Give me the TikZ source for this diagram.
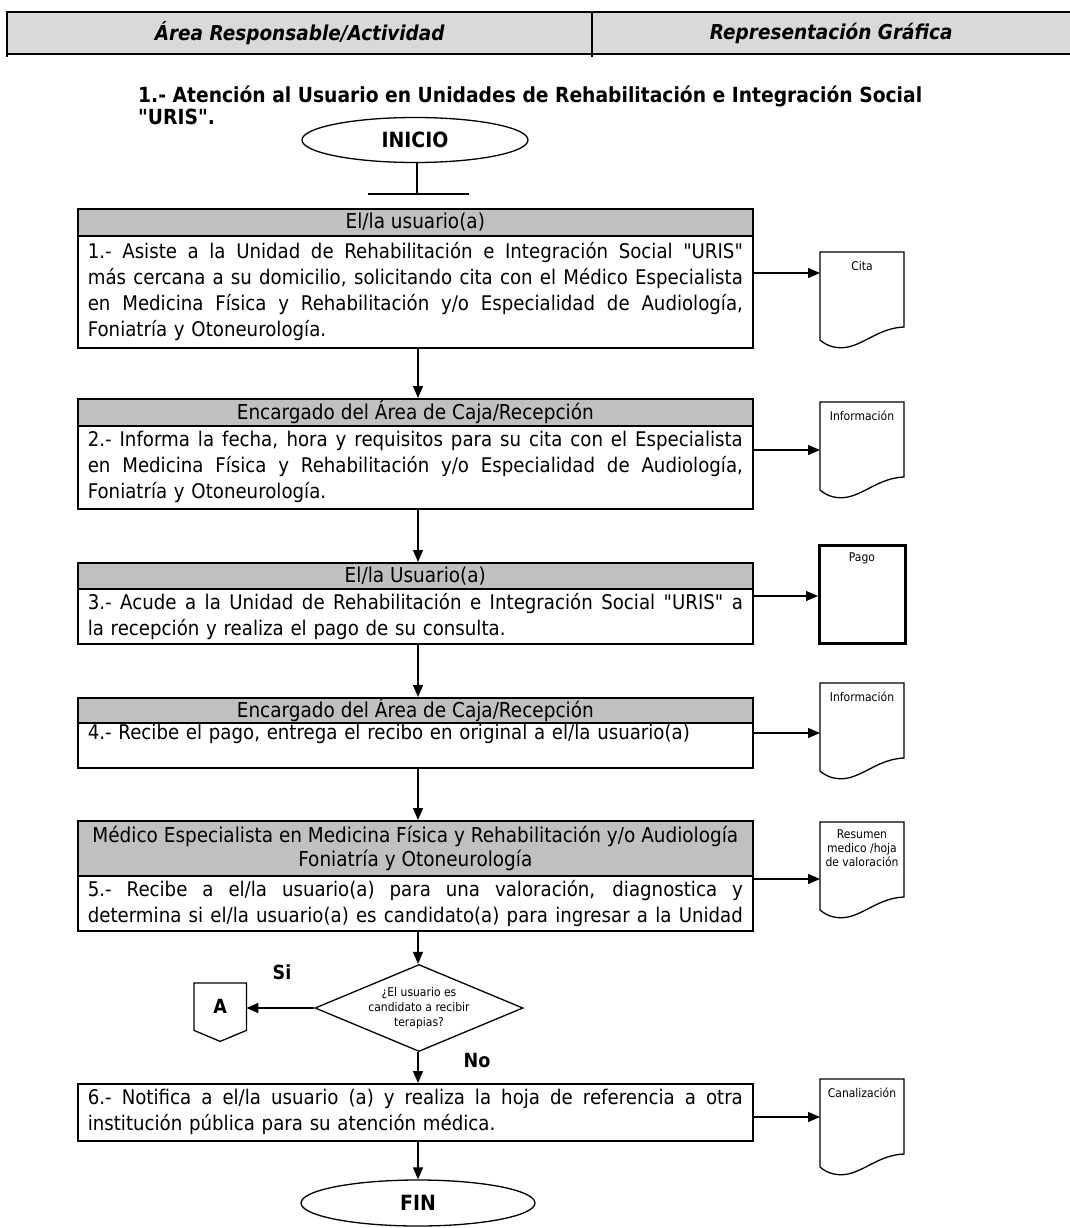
\documentclass[tikz,border=0pt]{standalone}
\usepackage{fontspec}
\setmainfont{DejaVu Sans}[FakeStretch=0.9,Ligatures=TeXOff]
\usetikzlibrary{arrows.meta,shapes.geometric}
\definecolor{hdrgray}{HTML}{D9D9D9}
\definecolor{boxgray}{HTML}{C0C0C0}
\newcommand\jl[1]{\leavevmode{\spaceskip=0.3em plus 2em minus 0.08em\relax\hbox to 655pt{#1}}}
\begin{document}
\begin{tikzpicture}[x=1pt,y=-1pt,
  arr/.style={line width=1.3pt,-{Triangle[length=12pt,width=10pt]}},
  cellhdr/.style={fill=hdrgray,anchor=north west,inner sep=0pt,minimum height=42pt,
    font=\bfseries\itshape\fontsize{20.5}{24}\selectfont},
  hdr/.style={draw,line width=1.6pt,fill=boxgray,minimum width=675pt,anchor=north west,
    inner sep=0pt,align=center,font=\fontsize{20.5}{24}\selectfont},
  body/.style={draw,line width=1.6pt,minimum width=675pt,text width=655pt,anchor=north west,
    inner xsep=10pt,inner ysep=0pt,align=left,font=\fontsize{20.2}{26}\selectfont},
  term/.style={draw,ellipse,line width=1.3pt,inner sep=0pt,font=\bfseries\fontsize{21}{24}\selectfont},
  docbox/.style={anchor=north west,minimum width=84pt,minimum height=75pt,inner sep=0pt},
  docline/.style={line width=1.3pt},
  doctext/.style={anchor=north,align=center,inner sep=0pt,font=\fontsize{12}{14}\selectfont},
  lbl/.style={font=\bfseries\fontsize{19.5}{22}\selectfont,inner sep=0pt}
]
\useasboundingbox (0,0) rectangle (1070,1228);
\coordinate (cx) at (418,0);

% table header
\node[cellhdr,minimum width=585pt] (t1) at (7,12) {\'Area Responsable/Actividad};
\node[cellhdr,minimum width=478pt] (t2) at (592,12) {Representaci\'on Gr\'afica};
\draw[line width=1.5pt] (t2.north east) -- (t1.north west) -- ([yshift=-3pt]t1.south west);
\draw[line width=2pt] (t1.south west) -- (t2.south east);
\draw[line width=1.3pt] (t2.north west) -- ([yshift=-3pt]t2.south west);

% title
\node[anchor=north west,align=left,inner sep=0pt,font=\bfseries\fontsize{20.8}{22}\selectfont] (title) at (138,86)
 {1.- Atención al Usuario en Unidades de Rehabilitación e Integración Social\\"URIS".};

% start
\node[term,minimum width=226pt,minimum height=45pt] (ini) at (415,140) {INICIO};
\coordinate (tk) at (417,194);
\coordinate (tkl) at (368,194);
\coordinate (tkr) at (469,194);
\draw[line width=1.3pt] (ini.south -| tk) -- (tk);
\draw[line width=1.3pt] (tkl) -- (tkr);

% step 1
\node[hdr,minimum height=27pt] (h1) at (77,208) {El/la usuario(a)};
\node[body,minimum height=112pt] (b1) at (77,235)
 {\jl{1.- Asiste a la Unidad de Rehabilitación e Integración Social "URIS"}\\
  \jl{más cercana a su domicilio, solicitando cita con el Médico Especialista}\\
  \jl{en Medicina Física y Rehabilitación y/o Especialidad de Audiología,}\\
  Foniatría y Otoneurología.};

% step 2
\node[hdr,minimum height=27pt] (h2) at (77,398) {Encargado del Área de Caja/Recepción};
\node[body,minimum height=83pt] (b2) at (77,425)
 {\jl{2.- Informa la fecha, hora y requisitos para su cita con el Especialista}\\
  \jl{en Medicina Física y Rehabilitación y/o Especialidad de Audiología,}\\
  Foniatría y Otoneurología.};

% step 3
\node[hdr,minimum height=26pt] (h3) at (77,562) {El/la Usuario(a)};
\node[body,minimum height=55pt] (b3) at (77,588)
 {\jl{3.- Acude a la Unidad de Rehabilitación e Integración Social "URIS" a}\\
  la recepción y realiza el pago de su consulta.};

% step 4
\node[hdr,minimum height=25pt] (h4) at (77,697) {Encargado del Área de Caja/Recepción};
\node[body,minimum height=45pt] (b4) at (77,722)
 {4.- Recibe el pago, entrega el recibo en original a el/la usuario(a)\\ \mbox{}};

% step 5
\node[hdr,minimum height=55pt] (h5) at (77,820)
 {Médico Especialista en Medicina Física y Rehabilitación y/o Audiología\\Foniatría y Otoneurología};
\node[body,minimum height=55pt] (b5) at (77,875)
 {\jl{5.- Recibe a el/la usuario(a) para una valoración, diagnostica y}\\
  \jl{determina si el/la usuario(a) es candidato(a) para ingresar a la Unidad}};

% decision
\node[draw,diamond,line width=1.3pt,aspect=2.4,minimum width=208pt,minimum height=87pt,inner sep=0pt,
  align=center,font=\fontsize{12}{15}\selectfont] (dia) at (419,1008)
 {¿El usuario es\\candidato a recibir\\terapias?};
\node[lbl] (si) at (282,972) {Si};
\node[lbl] (no) at (477,1061) {No};

% connector A
\node[anchor=north west,minimum width=52pt,minimum height=46pt,inner sep=0pt,
  font=\bfseries\fontsize{19.5}{22}\selectfont] (A) at (194,983) {A};
\draw[line width=1.3pt] (A.north west) -- (A.north east) -- ([yshift=-1pt]A.south east)
  -- ([yshift=-12pt]A.south) -- ([yshift=-1pt]A.south west) -- cycle;

% step 6
\node[body,minimum height=57pt] (b6) at (77,1083)
 {\jl{6.- Notifica a el/la usuario (a) y realiza la hoja de referencia a otra}\\
  institución pública para su atención médica.};

% end
\node[term,minimum width=234pt,minimum height=46pt] (fin) at (418,1203) {FIN};

% vertical flow
\draw[arr] (b1.south -| cx) -- (h2.north -| cx);
\draw[arr] (b2.south -| cx) -- (h3.north -| cx);
\draw[arr] (b3.south -| cx) -- (h4.north -| cx);
\draw[arr] (b4.south -| cx) -- (h5.north -| cx);
\draw[arr] (b5.south -| cx) -- (dia.north -| cx);
\draw[arr] (dia.west) -- (dia.west -| A.east);
\draw[arr] (dia.south -| cx) -- (b6.north -| cx);
\draw[arr] (b6.south -| cx) -- (fin.north -| cx);

% documents
\newcommand\wavedoc[2]{%
  \draw[docline] (820,{#2+88}) -- (820,#2) -- (904,#2) -- (904,{#2+75})
    .. controls (880,{#2+76}) and (866,{#2+91}) .. (848,{#2+95})
    .. controls (838,{#2+97}) and (828,{#2+95}) .. (820,{#2+88});}
\node[docbox] (d1) at (820,252) {};
\wavedoc{d1}{252}
\node[doctext] (d1t) at (862,261) {Cita};
\node[docbox] (d2) at (820,402) {};
\wavedoc{d2}{402}
\node[doctext] (d2t) at (862,411) {Información};
\node[docbox,minimum width=86pt,minimum height=98pt,draw,line width=3pt] (d3) at (818,544) {};
\node[doctext] (d3t) at (862,553) {Pago};
\node[docbox] (d4) at (820,683) {};
\wavedoc{d4}{683}
\node[doctext] (d4t) at (862,692) {Información};
\node[docbox] (d5) at (820,822) {};
\wavedoc{d5}{822}
\node[doctext] (d5t) at (862,830) {Resumen\\medico /hoja\\de valoración};
\node[docbox] (d6) at (820,1079) {};
\wavedoc{d6}{1079}
\node[doctext] (d6t) at (862,1088) {Canalización};

\coordinate (y1) at (0,273);
\coordinate (y2) at (0,450);
\coordinate (y3) at (0,596);
\coordinate (y4) at (0,733);
\coordinate (y5) at (0,879);
\coordinate (y6) at (0,1117);
\draw[arr] (b1.east |- y1) -- (d1.west |- y1);
\draw[arr] (b2.east |- y2) -- (d2.west |- y2);
\draw[arr] (b3.east |- y3) -- (d3.west |- y3);
\draw[arr] (b4.east |- y4) -- (d4.west |- y4);
\draw[arr] (b5.east |- y5) -- (d5.west |- y5);
\draw[arr] (b6.east |- y6) -- (d6.west |- y6);
\end{tikzpicture}
\end{document}
